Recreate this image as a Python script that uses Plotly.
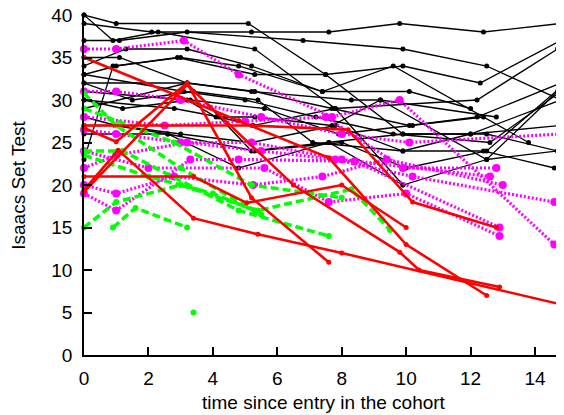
import plotly.graph_objects as go

# ---------------- data ----------------
black_x = [
    [0, 1.0, 5.1, 7.5, 9.9, 12.3, 14.8],
    [0, 2.1, 5.2, 7.6, 9.8, 12.4, 14.8],
    [0, 1.1, 3.2, 6.8, 9.9, 12.5, 14.8],
    [0, 0.9, 2.3, 5.3, 7.8, 12.2, 14.7],
    [0, 1.3, 3.2, 5.2, 7.4, 10.1, 12.0],
    [0, 1.0, 2.9, 5.3, 7.5, 9.9, 12.5, 14.7],
    [0, 1.1, 3.2, 5.2, 8.3, 9.2, 12.8],
    [0, 1.5, 3.4, 5.4, 7.1, 9.9, 12.4, 14.6],
    [0, 3.2, 4.1, 5.3, 7.7, 9.2, 12.5, 14.7],
    [0, 2.8, 4.2, 5.25, 7.8, 9.9],
    [0, 3.2, 5.2, 7.6, 9.9, 12.0, 14.8],
    [0, 0.9, 3.0, 4.8, 7.4, 9.6, 13.8],
    [0, 0.96, 2.6, 4.8, 7.6, 9.9, 12.5, 14.7],
    [0, 3.2, 5.3, 7.7, 10.1, 12.2, 14.8],
    [0, 1.0, 3.0, 5.2, 7.8, 9.9, 12.0, 14.8],
    [0, 2.6, 5.3, 8.0, 10.0, 12.5, 14.8],
    [0, 1.2, 3.3, 5.6, 7.9, 10.2, 12.4],
    [0, 3.1, 5.0, 7.2, 9.6, 12.6, 14.8],
]
black_y = [
    [40, 39, 39, 33, 34, 32, 37],
    [39, 38, 38, 38, 39, 38, 39],
    [37, 37, 38, 37, 36, 34, 30],
    [40, 37, 38, 36, 29, 30, 36],
    [34, 36, 36, 34, 31, 31, 29],
    [33, 34, 35, 33, 33, 26, 26, 24],
    [35, 35, 32, 31, 30, 30, 28],
    [32, 30, 31, 30, 25, 24, 24, 22],
    [31, 30, 28, 28, 27, 30, 23, 24],
    [30, 29, 28, 27, 29, 20],
    [29, 32, 24, 25, 26, 26, 30],
    [23, 34, 35, 34, 31, 34, 25],
    [27, 27, 26, 22, 25, 20, 23, 31],
    [32, 32, 31, 29, 27, 28, 32],
    [28, 27, 26, 25, 27, 24, 26, 27],
    [26, 26, 24, 25, 22, 24, 31.5],
    [30, 29, 30, 29, 26, 27, 28],
    [33, 31, 30, 28, 26, 25, 31],
]

magenta_x = [
    [0, 1.0, 3.1, 4.8, 7.7, 9.8, 14.6],
    [0, 1.0, 3.0, 5.5, 8.0, 10.1, 14.8],
    [0, 2.5, 5.0, 7.5, 9.9, 12.8],
    [0, 1.0, 3.0, 5.2, 8.0, 12.6],
    [0, 1.0, 3.2, 5.5, 7.8, 10.2, 14.6],
    [0, 1.0, 2.8, 5.25, 7.4, 9.4, 13.0],
    [0, 1.0, 3.3, 4.8, 8.4, 12.9],
    [0, 2.0, 5.6, 7.6, 10.0, 12.9],
]
magenta_y = [
    [36, 36, 37, 33, 28, 30, 13],
    [31, 31, 30, 28, 26, 25, 26],
    [28, 27, 27.5, 28, 22, 22],
    [26.5, 26, 25, 25, 23, 21],
    [22, 23.5, 25, 24, 23, 21, 18],
    [20, 19, 21, 20, 21, 23, 20],
    [19, 17, 23, 23, 22.8, 15],
    [24, 22, 22, 18, 19, 14],
]

green_x = [
    [0, 1.0, 3.0, 5.4, 8.3, 9.5],
    [0.9, 1.6, 3.2],
    [0, 1.2, 4.8, 7.6],
    [0, 1.0, 3.0, 5.5],
    [0, 2.8, 5.2, 8.0],
    [0, 2.0, 4.0, 5.3],
    [3.4],
]
green_y = [
    [15, 18, 20, 17, 19.5, 14.7],
    [15, 17.3, 15],
    [24, 24, 17, 14],
    [30.8, 27, 22, 16.5],
    [29, 25, 20, 18.5],
    [23.5, 21, 19, 17],
    [5],
]

red_x = [
    [0, 1.0, 3.2, 5.2, 7.6],
    [0, 1.06, 3.4, 5.4, 8.0, 14.75],
    [0, 3.4, 5.05, 8.0, 10.0],
    [0, 3.2, 6.5, 9.8, 10.4, 12.9],
    [0, 4.8, 7.6, 10.0, 12.5],
    [0, 5.2, 8.2, 10.2, 12.8],
]
red_y = [
    [26.7, 25.1, 32, 18.5, 10.9],
    [19.4, 24.1, 16.1, 14.2, 12, 6],
    [21, 21, 17.9, 20, 15],
    [19.2, 31.8, 20, 12.1, 10, 8],
    [35, 27.6, 23.2, 13, 7],
    [27, 27, 26.5, 18, 15],
]

x_ticks = [0, 2, 4, 6, 8, 10, 12, 14]
y_ticks = [0, 5, 10, 15, 20, 25, 30, 35, 40]

# ---------------- figure ----------------
fig = go.Figure()

def add_group(xs, ys, color, width, dash, msize):
    for xv, yv in zip(xs, ys):
        fig.add_trace(go.Scatter(
            x=xv, y=yv, mode="lines+markers",
            line=dict(color=color, width=width, dash=dash),
            marker=dict(color=color, size=msize),
            showlegend=False, hoverinfo="skip", cliponaxis=False))

add_group(black_x, black_y, "black", 1.3, "solid", 5)
add_group(magenta_x, magenta_y, "#ff00ff", 3.2, "2px,2px", 8)
add_group(green_x, green_y, "#00ff00", 3.5, "8px,4px", 6)
add_group(red_x, red_y, "#ff0000", 2.6, "solid", 5)

font = dict(family="Liberation Sans, Arial, sans-serif", size=19, color="black")

# the page body has an 8px default margin, so the figure is 8px smaller
fig.update_layout(
    width=556, height=407,
    margin=dict(l=76, r=0, t=7, b=60, autoexpand=False),
    paper_bgcolor="white", plot_bgcolor="white",
    font=font,
    xaxis=dict(range=[0, 14.9], tickvals=x_ticks, ticktext=[str(v) for v in x_ticks],
               ticks="inside", ticklen=8, tickwidth=1.5, tickcolor="black",
               showline=True, linecolor="black", linewidth=1.5, automargin=False,
               showgrid=False, zeroline=False, ticklabelstandoff=5,
               ticklabeloverflow="allow"),
    yaxis=dict(range=[0, 40], tickvals=y_ticks, ticktext=[str(v) for v in y_ticks],
               ticks="inside", ticklen=8, tickwidth=1.5, tickcolor="black",
               showline=True, linecolor="black", linewidth=1.5, automargin=False,
               showgrid=False, zeroline=False, ticklabelstandoff=6,
               ticklabeloverflow="allow"),
    annotations=[
        dict(text="time since entry in the cohort", xref="paper", yref="paper",
             x=0.5, y=-0.141, xanchor="center", yanchor="middle", showarrow=False,
             font=font),
        dict(text="Isaacs Set Test", xref="paper", yref="paper",
             x=-0.138, y=0.5, xanchor="center", yanchor="middle", showarrow=False,
             textangle=-90, font=font),
    ],
)

fig.write_html("out.html")
